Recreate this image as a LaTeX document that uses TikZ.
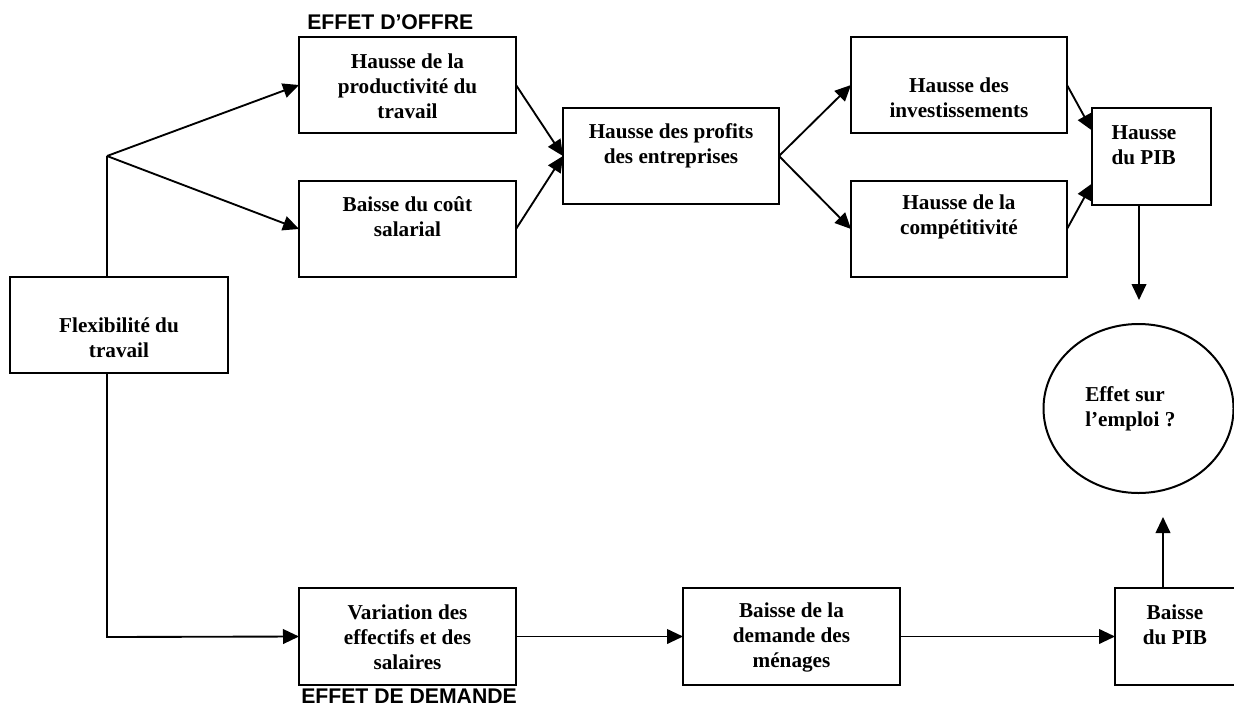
\documentclass[tikz,border=0pt]{standalone}
\usepackage{fontspec}
\setmainfont{Liberation Serif}
\setsansfont{Liberation Sans}
\usetikzlibrary{arrows.meta,calc,shapes.geometric}
\begin{document}
\begin{tikzpicture}[x=0.75pt,y=-0.75pt,
  box/.style={draw,line width=1.5pt,inner sep=0pt,outer sep=0pt,minimum width=#1*0.75pt,minimum height=96*0.75pt},
  box/.default=217,
  txt/.style={font={\bfseries\fontsize{15.9}{18.75}\selectfont},align=center,inner sep=0pt},
  lbl/.style={font={\sffamily\bfseries\fontsize{15.9}{18}\selectfont},inner sep=0pt,anchor=west},
  ln/.style={line width=1.4pt},
  arr/.style={line width=1.4pt,-{Triangle[length=12pt,width=11pt]}}]
\useasboundingbox (0,0) rectangle (1234,707);
\clip (0,0) rectangle (1234,707);
% boxes
\node[box=218] (flex) at (119,325) {};
\node[box] (A) at (407.5,85) {};
\node[box] (B) at (407.5,229) {};
\node[box=216] (C) at (671,156) {};
\node[box=216] (D) at (959,85) {};
\node[box=216] (E) at (959,229) {};
\node[box=119,minimum height=97*0.75pt] (F) at (1151.5,156.5) {};
\node[draw,ellipse,line width=1.5pt,inner sep=0pt,outer sep=0pt,minimum width=190*0.75pt,minimum height=169*0.75pt] (emp) at (1138.5,408.5) {};
\node[box,minimum height=97*0.75pt] (V) at (407.5,636.5) {};
\node[box,minimum height=97*0.75pt] (M) at (791.5,636.5) {};
\node[box=145,minimum height=97*0.75pt] (G) at (1187.5,636.5) {};
% texts
\node[txt] (tflex) at (119,338) {Flexibilité du\\travail};
\node[txt] (tA) at (407.5,86) {Hausse de la\\productivité du\\travail};
\node[txt] (tB) at (407.5,216.5) {Baisse du coût\\salarial};
\node[txt] (tC) at (671,145.5) {Hausse des profits\\des entreprises};
\node[txt] (tD) at (959,97.5) {Hausse des\\investissements};
\node[txt] (tE) at (959,216.5) {Hausse de la\\compétitivité};
\node[txt,align=left] (tF) at (1144,145.5) {Hausse\\du PIB};
\node[txt,align=left,anchor=west] (temp) at (1085,409) {Effet sur\\l’emploi ?};
\node[txt] (tV) at (407.5,637.5) {Variation des\\effectifs et des\\salaires};
\node[txt] (tM) at (791.5,637.5) {Baisse de la\\demande des\\ménages};
\node[txt] (tG) at (1175,625) {Baisse\\du PIB};
\node[lbl] (offre) at (307,22) {EFFET D’OFFRE};
\node[lbl] (demande) at (301,696) {EFFET DE DEMANDE};
% connectors
\coordinate (j1) at (107,156);
\coordinate (j2) at (107,637);
\coordinate (fd) at (1139,300);
\coordinate (gu) at (1163,517);
\draw[ln] (j1 |- flex.north) -- (j1);
\draw[arr] (j1) -- (A.west);
\draw[arr] (j1) -- (B.west);
\draw[arr] (A.east) -- (C.west);
\draw[arr] (B.east) -- (C.west);
\draw[arr] (C.east) -- (D.west);
\draw[arr] (C.east) -- (E.west);
\draw[arr] (D.east) -- ($(F.west)+(0,-26)$);
\draw[arr] (E.east) -- ($(F.west)+(0,27)$);
\draw[arr] (fd |- F.south) -- (fd);
\draw[arr] (j2 |- flex.south) -- (j2) -- (V.west);
\draw[arr] (V.east) -- (M.west);
\draw[arr] (M.east) -- (G.west);
\draw[arr] (gu |- G.north) -- (gu);
\end{tikzpicture}
\end{document}
